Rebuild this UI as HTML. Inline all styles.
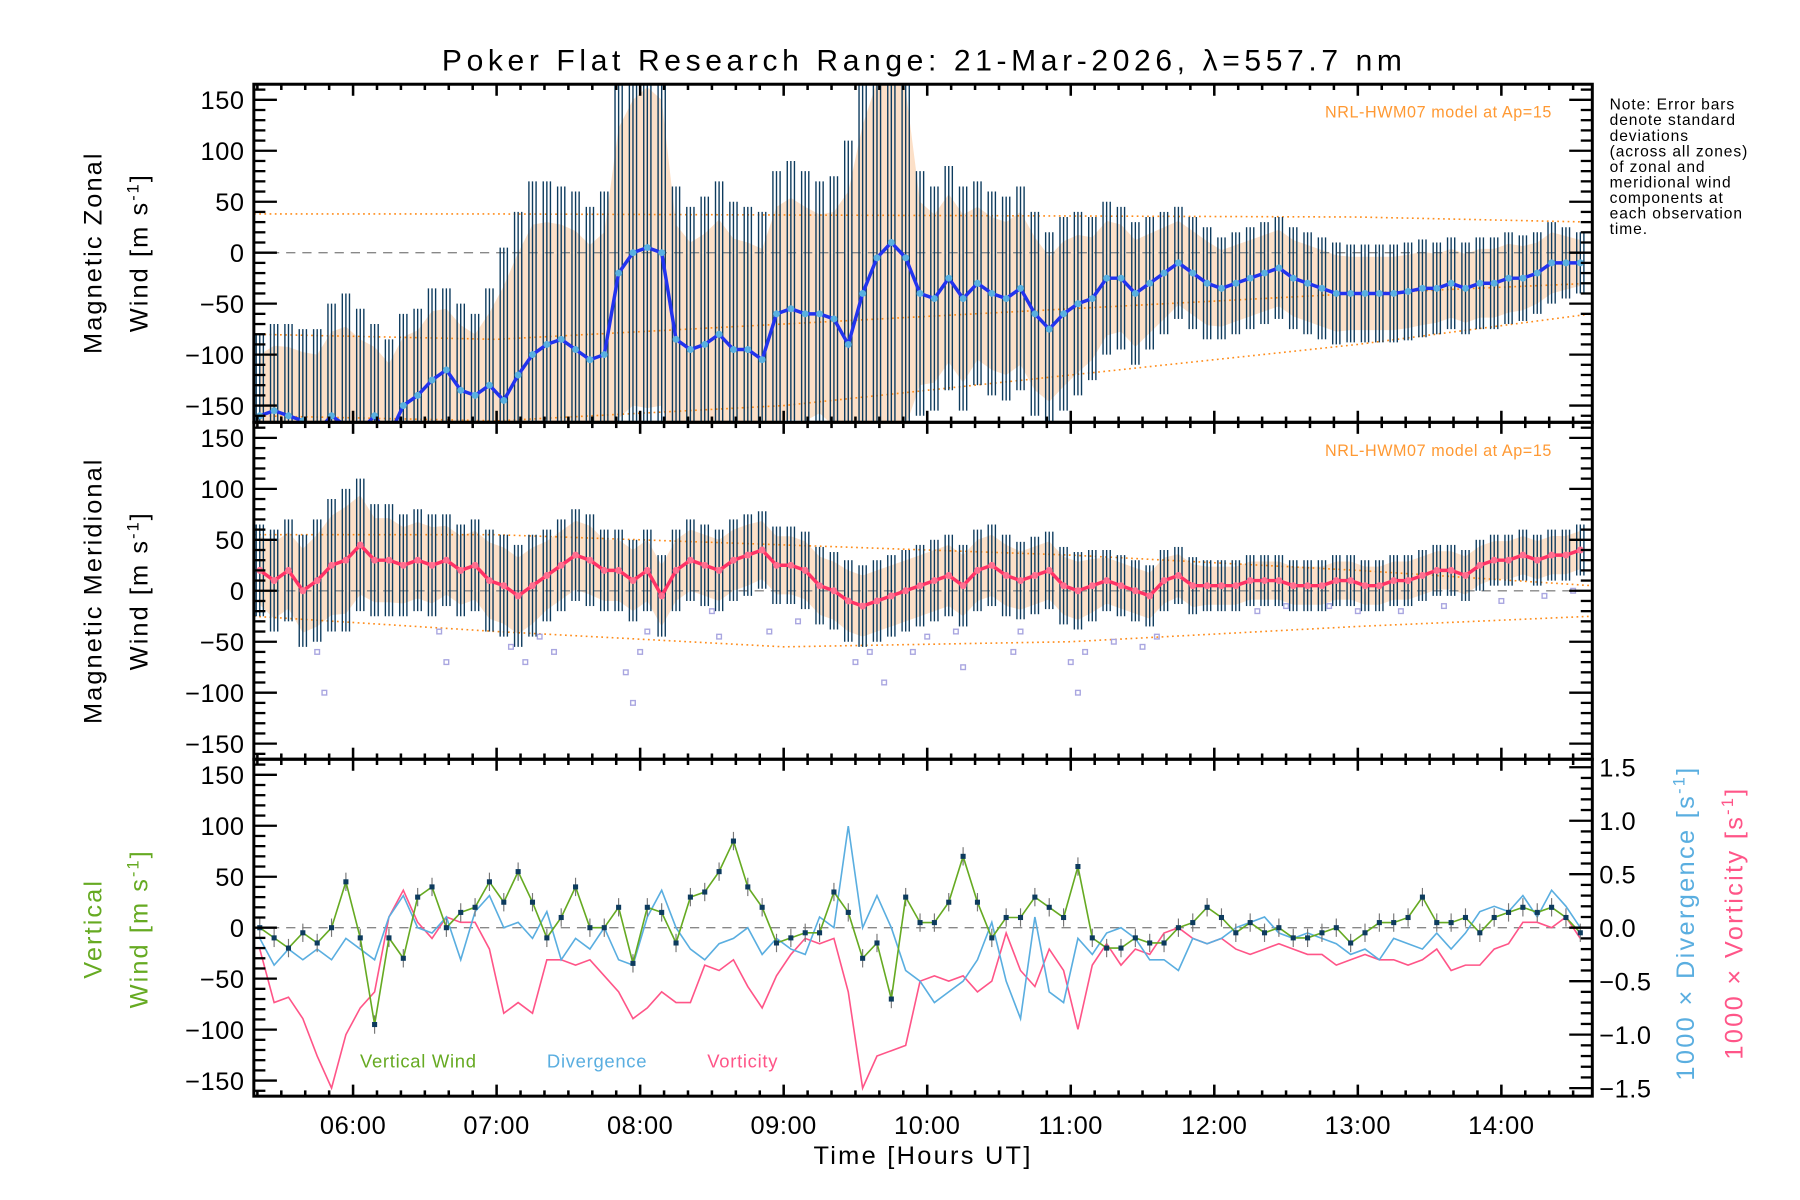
<!DOCTYPE html>
<html><head><meta charset="utf-8">
<style>
html,body{margin:0;padding:0;background:#fff;}
svg{display:block;font-family:"Liberation Sans","DejaVu Sans",sans-serif;}
</style></head>
<body>
<svg id="chart" width="1800" height="1200" viewBox="0 0 1560 1040" xmlns="http://www.w3.org/2000/svg">
<defs>
<clipPath id="c1"><rect x="220" y="73" width="1160" height="293"/></clipPath>
<clipPath id="c2"><rect x="220" y="366" width="1160" height="292"/></clipPath>
<clipPath id="c3"><rect x="220" y="658" width="1160" height="292"/></clipPath>
</defs>
<text x="383" y="61" font-size="26" textLength="832" lengthAdjust="spacing">Poker Flat Research Range: 21-Mar-2026, λ=557.7 nm</text>
<g id="p1"></g>
<g id="p2"></g>
<g id="p3"></g>
<g id="axes"></g>
<g>
<text transform="translate(88,219) rotate(-90)" font-size="22" text-anchor="middle" letter-spacing="1.8">Magnetic Zonal</text>
<text transform="translate(128,219) rotate(-90)" font-size="22" text-anchor="middle" letter-spacing="1.8">Wind [m s<tspan font-size="14" dy="-8">-1</tspan><tspan dy="8">]</tspan></text>
</g>
<g>
<text transform="translate(88,512) rotate(-90)" font-size="22" text-anchor="middle" letter-spacing="1.8">Magnetic Meridional</text>
<text transform="translate(128,512) rotate(-90)" font-size="22" text-anchor="middle" letter-spacing="1.8">Wind [m s<tspan font-size="14" dy="-8">-1</tspan><tspan dy="8">]</tspan></text>
</g>
<g fill="#66aa22">
<text transform="translate(88,805) rotate(-90)" font-size="22" text-anchor="middle" letter-spacing="1.8">Vertical</text>
<text transform="translate(128,805) rotate(-90)" font-size="22" text-anchor="middle" letter-spacing="1.8">Wind [m s<tspan font-size="14" dy="-8">-1</tspan><tspan dy="8">]</tspan></text>
</g>
<text transform="translate(1468,800) rotate(-90)" font-size="22" text-anchor="middle" fill="#5aaee0" letter-spacing="2">1000 × Divergence [s<tspan font-size="14" dy="-8">-1</tspan><tspan dy="8">]</tspan></text>
<text transform="translate(1510,800) rotate(-90)" font-size="22" text-anchor="middle" fill="#ff5588" letter-spacing="2">1000 × Vorticity [s<tspan font-size="14" dy="-8">-1</tspan><tspan dy="8">]</tspan></text>
<text x="705" y="1009" font-size="22" textLength="188" lengthAdjust="spacing">Time [Hours UT]</text>
<g font-size="13.5" letter-spacing="0.8">
<text x="1395" y="95">Note: Error bars</text>
<text x="1395" y="108.5">denote standard</text>
<text x="1395" y="122">deviations</text>
<text x="1395" y="135.5">(across all zones)</text>
<text x="1395" y="149">of zonal and</text>
<text x="1395" y="162.5">meridional wind</text>
<text x="1395" y="176">components at</text>
<text x="1395" y="189.5">each observation</text>
<text x="1395" y="203">time.</text>
</g>
<text x="1345" y="102" font-size="14" fill="#ff9933" text-anchor="end" letter-spacing="0.5">NRL-HWM07 model at Ap=15</text>
<text x="1345" y="395" font-size="14" fill="#ff9933" text-anchor="end" letter-spacing="0.5">NRL-HWM07 model at Ap=15</text>
<text x="312" y="925" font-size="16" fill="#66aa22" letter-spacing="0.6">Vertical Wind</text>
<text x="474" y="925" font-size="16" fill="#5aaee0" letter-spacing="0.6">Divergence</text>
<text x="613" y="925" font-size="16" fill="#ff5588" letter-spacing="0.6">Vorticity</text>
</svg>
<script>
const times = [5.35,5.45,5.55,5.65,5.75,5.85,5.95,6.05,6.15,6.25,6.35,6.45,6.55,6.65,6.75,6.85,6.95,7.05,7.15,7.25,7.35,7.45,7.55,7.65,7.75,7.85,7.95,8.05,8.15,8.25,8.35,8.45,8.55,8.65,8.75,8.85,8.95,9.05,9.15,9.25,9.35,9.45,9.55,9.65,9.75,9.85,9.95,10.05,10.15,10.25,10.35,10.45,10.55,10.65,10.75,10.85,10.95,11.05,11.15,11.25,11.35,11.45,11.55,11.65,11.75,11.85,11.95,12.05,12.15,12.25,12.35,12.45,12.55,12.65,12.75,12.85,12.95,13.05,13.15,13.25,13.35,13.45,13.55,13.65,13.75,13.85,13.95,14.05,14.15,14.25,14.35,14.45,14.55];
const zonal = [-160,-155,-160,-165,-175,-160,-170,-175,-160,-180,-150,-140,-125,-115,-135,-140,-130,-145,-120,-100,-90,-85,-95,-105,-100,-20,0,5,0,-85,-95,-90,-80,-95,-95,-105,-60,-55,-60,-60,-65,-90,-40,-5,10,-5,-40,-45,-25,-45,-30,-40,-45,-35,-60,-75,-60,-50,-45,-25,-25,-40,-30,-20,-10,-20,-30,-35,-30,-25,-20,-15,-25,-30,-35,-40,-40,-40,-40,-40,-38,-35,-35,-30,-35,-30,-30,-25,-25,-20,-10,-10,-10];
const zonalStd = [80,85,90,90,100,110,130,120,90,95,90,85,90,80,85,80,95,150,160,170,160,150,155,150,160,190,200,210,200,150,140,145,150,145,140,145,140,145,140,130,140,200,220,230,240,220,120,110,110,110,100,100,100,100,100,95,95,90,80,75,70,70,65,60,55,55,55,50,50,50,50,50,50,50,50,50,48,48,48,48,48,48,45,45,45,45,45,45,42,40,40,35,30];
const merid = [20,10,20,0,10,25,30,45,30,30,25,30,25,30,20,25,10,5,-5,5,15,25,35,30,20,20,10,20,-5,20,30,25,20,30,35,40,25,25,20,5,0,-10,-15,-10,-5,0,5,10,15,5,20,25,15,10,15,20,5,0,5,10,5,0,-5,10,15,5,5,5,5,10,10,10,5,5,5,10,10,5,5,10,10,15,20,20,15,25,30,30,35,30,35,35,40];
const meridStd = [45,50,50,55,60,65,70,65,55,55,50,50,50,45,45,45,50,50,50,50,45,45,45,45,40,40,40,40,40,40,40,40,40,40,40,38,38,38,38,38,38,40,40,40,40,40,40,40,40,40,40,40,40,38,38,38,38,38,35,30,30,30,30,30,28,28,25,25,25,25,25,25,25,25,25,25,25,25,25,25,25,25,25,25,25,25,25,25,25,25,25,25,25];
const vertical = [0,-10,-20,-5,-15,0,45,-10,-95,-10,-30,30,40,0,15,20,45,25,55,25,-10,10,40,0,0,20,-35,20,15,-15,30,35,55,85,40,20,-15,-10,-5,-5,35,15,-30,-15,-70,30,5,5,25,70,25,-10,10,10,30,20,10,60,-10,-20,-20,-10,-15,-15,0,5,20,10,-5,5,-5,0,-10,-10,-5,0,-15,-5,5,5,10,30,5,5,10,-5,10,15,20,15,20,10,-5];
const divergence = [-0.1,-0.35,-0.2,-0.3,-0.2,-0.3,-0.1,-0.2,-0.3,0.1,0.3,0.0,-0.05,0.1,-0.3,0.15,0.3,0.0,0.05,-0.1,0.15,-0.3,-0.1,-0.2,0.0,-0.3,-0.35,0.1,0.35,0.0,-0.2,-0.3,-0.15,-0.1,0.0,-0.25,-0.1,-0.2,-0.25,0.1,0.0,0.95,0.0,0.3,0.0,-0.4,-0.5,-0.7,-0.6,-0.5,-0.3,0.05,-0.5,-0.85,0.1,-0.6,-0.7,-0.1,-0.25,-0.05,0.0,-0.1,-0.3,-0.3,-0.4,-0.1,-0.15,-0.1,0.0,0.05,0.1,-0.05,-0.1,-0.05,-0.1,-0.15,-0.25,-0.2,-0.3,-0.1,-0.15,-0.2,-0.05,-0.2,-0.05,0.15,0.2,0.15,0.3,0.1,0.35,0.2,0.0];
const vorticity = [-0.2,-0.7,-0.65,-0.85,-1.2,-1.5,-1.0,-0.75,-0.6,0.1,0.35,0.05,-0.1,0.1,0.05,0.05,-0.2,-0.8,-0.7,-0.8,-0.3,-0.3,-0.35,-0.3,-0.45,-0.6,-0.85,-0.75,-0.6,-0.7,-0.7,-0.35,-0.4,-0.3,-0.55,-0.75,-0.45,-0.25,-0.1,-0.15,-0.1,-0.6,-1.5,-1.2,-1.15,-1.1,-0.5,-0.45,-0.5,-0.45,-0.6,-0.5,-0.05,-0.4,-0.55,-0.2,-0.4,-0.95,-0.35,-0.15,-0.35,-0.2,-0.25,-0.05,0.0,-0.1,-0.15,-0.1,-0.2,-0.25,-0.2,-0.15,-0.2,-0.25,-0.25,-0.35,-0.3,-0.25,-0.3,-0.3,-0.35,-0.3,-0.2,-0.4,-0.35,-0.35,-0.2,-0.15,0.05,0.05,0.0,0.1,-0.1];
const outlierTimes = [5.75,5.8,6.6,6.65,7.1,7.2,7.3,7.4,7.9,7.95,8.0,8.05,8.5,8.55,8.9,9.1,9.5,9.6,9.7,9.9,10.0,10.2,10.25,10.6,10.65,11.0,11.05,11.1,11.3,11.5,11.6,12.3,12.5,12.8,13.0,13.3,13.6,14.0,14.3,14.5];
const outlierVals = [-60,-100,-40,-70,-55,-70,-45,-60,-80,-110,-60,-40,-20,-45,-40,-30,-70,-60,-90,-60,-45,-40,-75,-60,-40,-70,-100,-60,-50,-55,-45,-20,-15,-15,-20,-20,-15,-10,-5,0];
const xTickLabels = ["06:00","07:00","08:00","09:00","10:00","11:00","12:00","13:00","14:00"];
const xTickHours = [6,7,8,9,10,11,12,13,14];
const yTicks = [-150,-100,-50,0,50,100,150];
const y2Ticks = [-1.5,-1.0,-0.5,0.0,0.5,1.0,1.5];
const modelZonalA = [38,38,37,36,35,30];
const modelZonalB = [-80,-85,-70,-55,-40,-30];
const modelZonalC = [-160,-165,-150,-120,-90,-60];
const modelMeridA = [55,55,45,35,20,5];
const modelMeridB = [-25,-40,-55,-50,-35,-25];
const modelHours = [5.31,7.0,9.0,11.0,13.0,14.63];

const NS='http://www.w3.org/2000/svg';
const X0=220,X1=1380,T0=5.3087,T1=14.6336;
function xs(t){return X0+(t-T0)/(T1-T0)*(X1-X0);}
const P=[{top:73,bot:366,zero:219},{top:366,bot:658,zero:512},{top:658,bot:950,zero:804}];
const K=0.8833;
function ys(p,v){return P[p].zero-v*K;}
function y2(v){return P[2].zero-v*92.7;}
function el(tag,attrs,parent){const e=document.createElementNS(NS,tag);for(const k in attrs)e.setAttribute(k,attrs[k]);parent.appendChild(e);return e;}
function grp(id,clip){const g=el('g',{'clip-path':'url(#'+clip+')'},document.getElementById(id));return g;}

function windPanel(pi,id,clip,mean,std,lineCol,dotCol,mA,mB,mC){
  const g=grp(id,clip);
  let up='',dn='';
  for(let i=0;i<times.length;i++){up+=xs(times[i])+','+ys(pi,mean[i]+std[i]*0.75)+' ';}
  for(let i=times.length-1;i>=0;i--){dn+=xs(times[i])+','+ys(pi,mean[i]-std[i]*0.75)+' ';}
  const band=el('polygon',{points:up+dn,fill:'#fbd5b5',opacity:0.75},g);
  
  
  const z=el('line',{x1:X0,x2:X1,y1:P[pi].zero,y2:P[pi].zero,stroke:'#888','stroke-dasharray':'8,6','stroke-width':1.2},g);
  
  
  [mA,mB,mC].forEach(m=>{if(!m)return;let pts='';for(let i=0;i<modelHours.length;i++)pts+=xs(modelHours[i])+','+ys(pi,m[i])+' ';
    const pl=el('polyline',{points:pts,fill:'none',stroke:'#ff8c1a','stroke-dasharray':'1.5,3','stroke-width':1.4},g);
    
    });
  for(let i=0;i<times.length;i++){
    for(const off of [-0.025,0,0.025]){
      const b=el('line',{x1:xs(times[i]+off),x2:xs(times[i]+off),y1:ys(pi,mean[i]+std[i]),y2:ys(pi,mean[i]-std[i]),stroke:'#0d3b5e','stroke-width':1.2},g);
      
      
    }
  }
  let pts='';for(let i=0;i<times.length;i++)pts+=xs(times[i])+','+ys(pi,mean[i])+' ';
  const ln=el('polyline',{points:pts,fill:'none',stroke:lineCol,'stroke-width':3},g);
  
  
  for(let i=0;i<times.length;i++){
    const c=el('circle',{cx:xs(times[i]),cy:ys(pi,mean[i]),r:3,fill:dotCol},g);
    
    
  }
  return g;
}
windPanel(0,'p1','c1',zonal,zonalStd,'#2233ee','#5ab0e0',modelZonalA,modelZonalB,modelZonalC);
const g2=windPanel(1,'p2','c2',merid,meridStd,'#ff3366','#ff6f8f',modelMeridA,modelMeridB,null);
for(let i=0;i<outlierTimes.length;i++){
  const r=el('rect',{x:xs(outlierTimes[i])-2,y:ys(1,outlierVals[i])-2,width:4,height:4,fill:'none',stroke:'#a9a6e0','stroke-width':1.2},g2);
  
  
}
(function(){
  const g=grp('p3','c3');
  const z=el('line',{x1:X0,x2:X1,y1:P[2].zero,y2:P[2].zero,stroke:'#888','stroke-dasharray':'8,6','stroke-width':1.2},g);
  
  
  function line(arr,f,col,name){let pts='';for(let i=0;i<times.length;i++)pts+=xs(times[i])+','+f(arr[i])+' ';
    const l=el('polyline',{points:pts,fill:'none',stroke:col,'stroke-width':1.4},g);
    
    }
  line(vorticity,y2,'#ff5588','vorticity-line');
  line(divergence,y2,'#5aaee0','divergence-line');
  for(let i=0;i<times.length;i++){
    const e=el('line',{x1:xs(times[i]),x2:xs(times[i]),y1:ys(2,vertical[i]+9),y2:ys(2,vertical[i]-9),stroke:'#777','stroke-width':1},g);
    
    
  }
  line(vertical,v=>ys(2,v),'#66aa22','vertical-wind-line');
  for(let i=0;i<times.length;i++){
    const r=el('rect',{x:xs(times[i])-2.2,y:ys(2,vertical[i])-2.2,width:4.4,height:4.4,fill:'#0d3b5e'},g);
    
    
  }
})();
(function(){
  const a=document.getElementById('axes');
  for(let p=0;p<3;p++){
    const fr=el('rect',{x:X0,y:P[p].top,width:X1-X0,height:P[p].bot-P[p].top,fill:'none',stroke:'#000','stroke-width':2.6},a);
    
    
    for(let v=-160;v<=160;v+=10){
      const y=ys(p,v); if(y<P[p].top+1||y>P[p].bot-1)continue;
      const L=(v%50===0)?20:10;
      el('line',{x1:X0,x2:X0+L,y1:y,y2:y,stroke:'#000','stroke-width':2},a);
      if(p<2) el('line',{x1:X1,x2:X1-L,y1:y,y2:y,stroke:'#000','stroke-width':2},a);
    }
    yTicks.forEach(v=>{const t=el('text',{x:X0-8,y:ys(p,v)+8,'font-size':22,'text-anchor':'end','letter-spacing':'0.5'},a);t.textContent=(v<0?'\u2212'+(-v):v);
      
      });
    for(let m=5*60+20;m<=14*60+40;m+=10){
      const x=xs(m/60); if(x<X0+1||x>X1-1)continue;
      const L=(m%60===0)?10:5;
      el('line',{x1:x,x2:x,y1:P[p].bot,y2:P[p].bot-L,stroke:'#000','stroke-width':2.2},a);
      el('line',{x1:x,x2:x,y1:P[p].top,y2:P[p].top+L,stroke:'#000','stroke-width':2.2},a);
    }
  }
  for(let v=-1.5;v<=1.55;v+=0.1){
    const y=y2(v); const L=(Math.abs(Math.round(v*10))%5===0)?20:10;
    el('line',{x1:X1,x2:X1-L,y1:y,y2:y,stroke:'#000','stroke-width':2},a);
  }
  y2Ticks.forEach(v=>{const t=el('text',{x:X1+6,y:y2(v)+8,'font-size':22,'letter-spacing':'0.5'},a);t.textContent=(v<0?'\u2212':'')+Math.abs(v).toFixed(1);
    
    });
  xTickHours.forEach((h,i)=>{const t=el('text',{x:xs(h),y:983,'font-size':22,'text-anchor':'middle','letter-spacing':'0.5'},a);t.textContent=xTickLabels[i];
    
    });
})();
</script>
</body></html>
